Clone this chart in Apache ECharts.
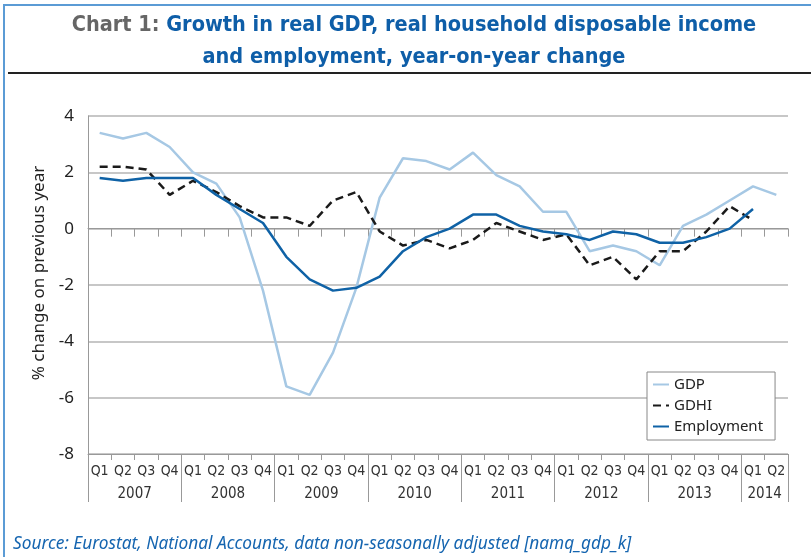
<!DOCTYPE html>
<html>
<head>
<meta charset="utf-8">
<script src="https://cdn.jsdelivr.net/npm/echarts@6/dist/echarts.min.js"></script>
<style>
html,body{margin:0;padding:0;background:#fff;}
#chart{width:811px;height:557px;}
</style>
</head>
<body>
<div id="chart"></div>
<script>
var quarters = ['Q1','Q2','Q3','Q4','Q1','Q2','Q3','Q4','Q1','Q2','Q3','Q4','Q1','Q2','Q3','Q4','Q1','Q2','Q3','Q4','Q1','Q2','Q3','Q4','Q1','Q2','Q3','Q4','Q1','Q2'];
var years = ['2007','2008','2009','2010','2011','2012','2013','2014'];
var yearStarts = [0,4,8,12,16,20,24,28,30];
var yearCenters = [2,6,10,14,18,22,26,29];
var gdp = [3.4,3.2,3.4,2.9,2.0,1.6,0.4,-2.2,-5.6,-5.9,-4.4,-2.1,1.1,2.5,2.4,2.1,2.7,1.9,1.5,0.6,0.6,-0.8,-0.6,-0.8,-1.3,0.1,0.5,1.0,1.5,1.2];
var gdhi = [2.2,2.2,2.1,1.2,1.7,1.3,0.8,0.4,0.4,0.1,1.0,1.3,-0.1,-0.6,-0.4,-0.7,-0.4,0.2,-0.1,-0.4,-0.2,-1.3,-1.0,-1.8,-0.8,-0.8,-0.1,0.8,0.3,null];
var employment = [1.8,1.7,1.8,1.8,1.8,1.2,0.7,0.2,-1.0,-1.8,-2.2,-2.1,-1.7,-0.8,-0.3,0.0,0.5,0.5,0.1,-0.1,-0.2,-0.4,-0.1,-0.2,-0.5,-0.5,-0.3,0.0,0.7,null];

var chart = echarts.init(document.getElementById('chart'), null, {renderer:'canvas'});
var narrow = '"DejaVu Sans Condensed", "Noto Sans", sans-serif';
var titleFont = 'bold 21.5px "DejaVu Sans Condensed", "Noto Sans", sans-serif';
var option = {
  animation:false,
  backgroundColor:'#fff',
  graphic:[
    {type:'rect', silent:true, z:-1, shape:{x:4, y:5, width:830, height:600}, style:{fill:null, stroke:'#5b9bd5', lineWidth:2}},
    {type:'line', silent:true, shape:{x1:8, y1:73, x2:811, y2:73}, style:{stroke:'#222', lineWidth:2}},
    {type:'text', silent:true, x:414, y:25, style:{
      text:'{g|Chart 1: }{b|Growth in real GDP, real household disposable income}',
      align:'center', verticalAlign:'middle',
      rich:{g:{fill:'#666666', font:titleFont}, b:{fill:'#0e5ea8', font:titleFont}}}},
    {type:'text', silent:true, x:414, y:57, style:{
      text:'and employment, year-on-year change', align:'center', verticalAlign:'middle',
      fill:'#0e5ea8', font:titleFont}},
    {type:'text', left:13, top:536, style:{text:'Source: Eurostat, National Accounts, data non-seasonally adjusted [namq_gdp_k]', fill:'#1565b0', font:'italic 17.3px "Noto Sans", sans-serif'}}
  ],
  legend:{
    orient:'vertical', left:647, top:372,
    backgroundColor:'#fff', borderColor:'#888', borderWidth:1,
    padding:[5,12,6,5], itemWidth:16, itemHeight:14, itemGap:6,
    itemStyle:{opacity:0},
    textStyle:{fontFamily:'"Noto Sans", sans-serif', fontSize:15, color:'#222'},
    data:['GDP','GDHI','Employment']
  },
  grid:[{left:88, right:23, top:116, bottom:103, containLabel:false}, {left:88, right:23, top:116, bottom:103, containLabel:false}],
  xAxis:[
    {type:'category', gridIndex:0, data:quarters, position:'bottom', boundaryGap:true,
     axisLine:{onZero:false, lineStyle:{color:'#999', width:1}},
     axisTick:{show:true, length:6, interval:0, lineStyle:{color:'#999'}},
     axisLabel:{interval:0, margin:10, color:'#333', fontSize:14, fontFamily:narrow},
     splitLine:{show:false}},
    {type:'category', gridIndex:0, data:quarters, position:'top', boundaryGap:true,
     axisLine:{onZero:true, lineStyle:{color:'#999', width:1}},
     axisTick:{show:true, inside:true, length:8, interval:0, lineStyle:{color:'#999'}},
     axisLabel:{show:false}, splitLine:{show:false}},
    {type:'value', gridIndex:1, min:0, max:30, position:'bottom',
     axisLine:{show:false, onZero:false},
     axisTick:{show:true, length:48, customValues:yearStarts, lineStyle:{color:'#999'}},
     axisLabel:{show:true, customValues:yearCenters, margin:33, color:'#333', fontSize:15, fontFamily:narrow,
       formatter:function(v){ var i = yearCenters.indexOf(v); return i>=0 ? years[i] : ''; }},
     splitLine:{show:false}}
  ],
  yAxis:[
    {type:'value', gridIndex:0, min:-8, max:4, interval:2,
     name:'% change on previous year', nameLocation:'middle', nameGap:40, nameRotate:90,
     nameTextStyle:{fontFamily:'"Noto Sans", sans-serif', fontSize:17, color:'#222', padding:[0,0,0,24]},
     axisLine:{show:true, lineStyle:{color:'#999'}}, axisTick:{show:false},
     axisLabel:{margin:14, color:'#222', fontSize:17, fontFamily:'"Noto Sans", sans-serif'},
     splitLine:{show:true, lineStyle:{color:'#b5b5b5', width:1.5}}},
    {type:'value', gridIndex:1, min:0, max:1, show:false}
  ],
  series:[
    {name:'GDP', type:'line', xAxisIndex:0, yAxisIndex:0, data:gdp, symbol:'none', lineStyle:{color:'#a6c8e4', width:2.5}, itemStyle:{color:'#a6c8e4'}, z:3},
    {name:'GDHI', type:'line', xAxisIndex:0, yAxisIndex:0, data:gdhi, symbol:'none', lineStyle:{color:'#1a1a1a', width:2.5, type:[8,5]}, itemStyle:{color:'#1a1a1a'}, z:4},
    {name:'Employment', type:'line', xAxisIndex:0, yAxisIndex:0, data:employment, symbol:'none', lineStyle:{color:'#0f62a6', width:2.5}, itemStyle:{color:'#0f62a6'}, z:5}
  ]
};
chart.setOption(option);
</script>
</body>
</html>
